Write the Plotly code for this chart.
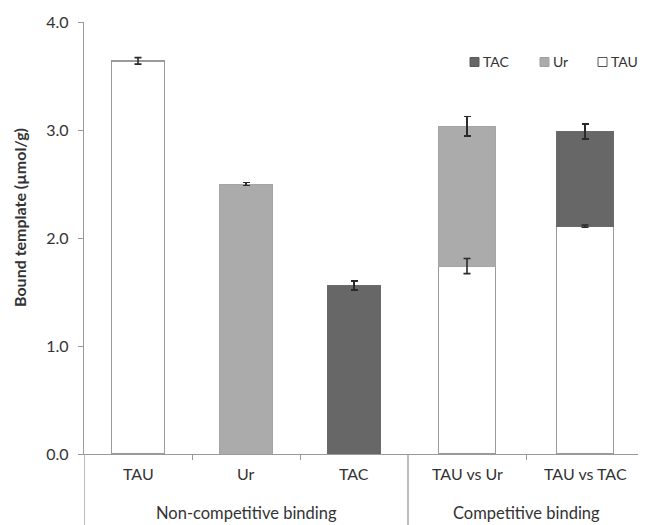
import plotly.graph_objects as go

# ---- data ----
categories = ["TAU", "Ur", "TAC", "TAU vs Ur", "TAU vs TAC"]
groups = ["Non-competitive binding", "Competitive binding"]
group_sizes = [3, 2]

tau_vals = [3.64, None, None, 1.74, 2.11]
tau_err = [0.03, 0, 0, 0.07, 0.01]
ur_vals = [None, 2.50, None, 1.295, None]
ur_err = [0, 0.015, 0, 0.09, 0]
tac_vals = [None, None, 1.56, None, 0.875]
tac_err = [0, 0, 0.04, 0, 0.07]

y_ticks = [0, 1, 2, 3, 4]
y_title = "Bound template (µmol/g)"

# ---- layout helpers (category slot widths per group) ----
slot_w = [1.0, 118 / 108]
bar_w = [0.49, 0.528]
centers, widths, bounds = [], [], [0.0]
start = 0.0
for g, n in enumerate(group_sizes):
    for i in range(n):
        centers.append(start + slot_w[g] * (i + 0.5))
        widths.append(bar_w[g])
        bounds.append(start + slot_w[g] * (i + 1))
    start += slot_w[g] * n
x_end = start

FONT = "Lato"
AX = "#9a9a9a"
TXT = "#333333"
ERR = "#2a2a2a"
C_TAU, C_UR, C_TAC = "#ffffff", "#ababab", "#676767"


def eb(arr):
    return dict(type="data", array=arr, visible=True, color=ERR, thickness=1.6, width=3.5)


fig = go.Figure()
fig.add_trace(go.Bar(name="TAU", x=centers, y=tau_vals, width=widths,
                     marker=dict(color=C_TAU, line=dict(color="#9a9a9a", width=1.5)),
                     showlegend=False))
fig.add_trace(go.Bar(name="Ur", x=centers, y=ur_vals, width=widths,
                     marker=dict(color=C_UR, line=dict(color="#a5a5a5", width=1)),
                     error_y=eb(ur_err), showlegend=False))
fig.add_trace(go.Bar(name="TAC", x=centers, y=tac_vals, width=widths,
                     marker=dict(color=C_TAC, line=dict(color="#6a6a6a", width=1)),
                     error_y=eb(tac_err), showlegend=False))
# TAU error bars drawn on top (TAU is the bottom layer of the stacks)
fig.add_trace(go.Scatter(name="TAU error", x=centers, y=tau_vals, mode="markers",
                         marker=dict(size=1, opacity=0), error_y=eb(tau_err),
                         showlegend=False, hoverinfo="skip"))

# figure sits at (8, 8) in the page (body margin)
W, H = 638, 517
PAGE_OFF = 8
PLOT_L, PLOT_T, PLOT_W, PLOT_H = 84, 22, 560, 432
ML = PLOT_L - PAGE_OFF
MT = PLOT_T - PAGE_OFF
MR = W - ML - PLOT_W
MB = H - MT - PLOT_H

bottom = -(H - MT - PLOT_H) / PLOT_H
shapes = []
div_x = [0.0]
gstart = 0.0
for g, n in enumerate(group_sizes):
    gstart += slot_w[g] * n
    div_x.append(gstart)
for xv in div_x[:-1]:
    shapes.append(dict(type="line", xref="x", yref="paper", x0=xv, x1=xv, y0=0, y1=bottom,
                       line=dict(color=AX, width=1.3)))

annotations = []
for c, xc in zip(categories, centers):
    annotations.append(dict(text=c, x=xc, xref="x", y=0, yref="paper", yshift=-19,
                            showarrow=False, yanchor="middle",
                            font=dict(family=FONT, size=16, color=TXT)))
gstart = 0.0
for g, (name, n) in enumerate(zip(groups, group_sizes)):
    gc = gstart + slot_w[g] * n / 2
    gstart += slot_w[g] * n
    annotations.append(dict(text=name, x=gc, xref="x", y=0, yref="paper", yshift=-59,
                            showarrow=False, yanchor="middle",
                            font=dict(family=FONT, size=16.5, color=TXT)))

# y-axis title
annotations.append(dict(text="<b>" + y_title + "</b>", x=0, xref="paper", xshift=19 - PLOT_L,
                        y=1 - (218 - PLOT_T) / PLOT_H, yref="paper", textangle=-90,
                        xanchor="center", yanchor="middle", showarrow=False,
                        font=dict(family=FONT, size=16, color=TXT)))

# manual legend (TAC, Ur, TAU) in page pixel positions
leg = [("TAC", C_TAC, "#5a5a5a", 470), ("Ur", C_UR, "#a0a0a0", 540), ("TAU", C_TAU, "#555555", 598)]
for name, fill, edge, px in leg:
    x0 = (px - PLOT_L) / PLOT_W
    x1 = (px + 9 - PLOT_L) / PLOT_W
    yc = 1 - (62 - PLOT_T) / PLOT_H
    shapes.append(dict(type="rect", xref="paper", yref="paper", x0=x0, x1=x1,
                       y0=yc - 4.5 / PLOT_H, y1=yc + 4.5 / PLOT_H,
                       fillcolor=fill, line=dict(color=edge, width=1)))
    annotations.append(dict(text=name, x=x1, xref="paper", xshift=2, y=yc, yref="paper",
                            xanchor="left", yanchor="middle", showarrow=False,
                            font=dict(family=FONT, size=14, color=TXT)))

fig.update_layout(
    width=W, height=H,
    margin=dict(l=ML, r=MR, t=MT, b=MB, pad=0),
    barmode="stack",
    plot_bgcolor="white", paper_bgcolor="white",
    font=dict(family=FONT, color=TXT),
    shapes=shapes, annotations=annotations,
    showlegend=False,
    xaxis=dict(range=[0, x_end], showgrid=False, zeroline=False, showline=True,
               linecolor=AX, linewidth=1.3, tickvals=[b for b in bounds if b not in div_x],
               ticks="outside", ticklen=5, tickcolor=AX, tickwidth=1.3,
               showticklabels=False),
    yaxis=dict(range=[0, 4], tickvals=y_ticks, tickformat=".1f", showgrid=False,
               zeroline=False, showline=True, linecolor=AX, linewidth=1.3,
               ticks="outside", ticklen=5, tickcolor=AX, tickwidth=1.3,
               ticklabelstandoff=6,
               tickfont=dict(family=FONT, size=16, color=TXT)),
)

fig.write_html("out.html")
